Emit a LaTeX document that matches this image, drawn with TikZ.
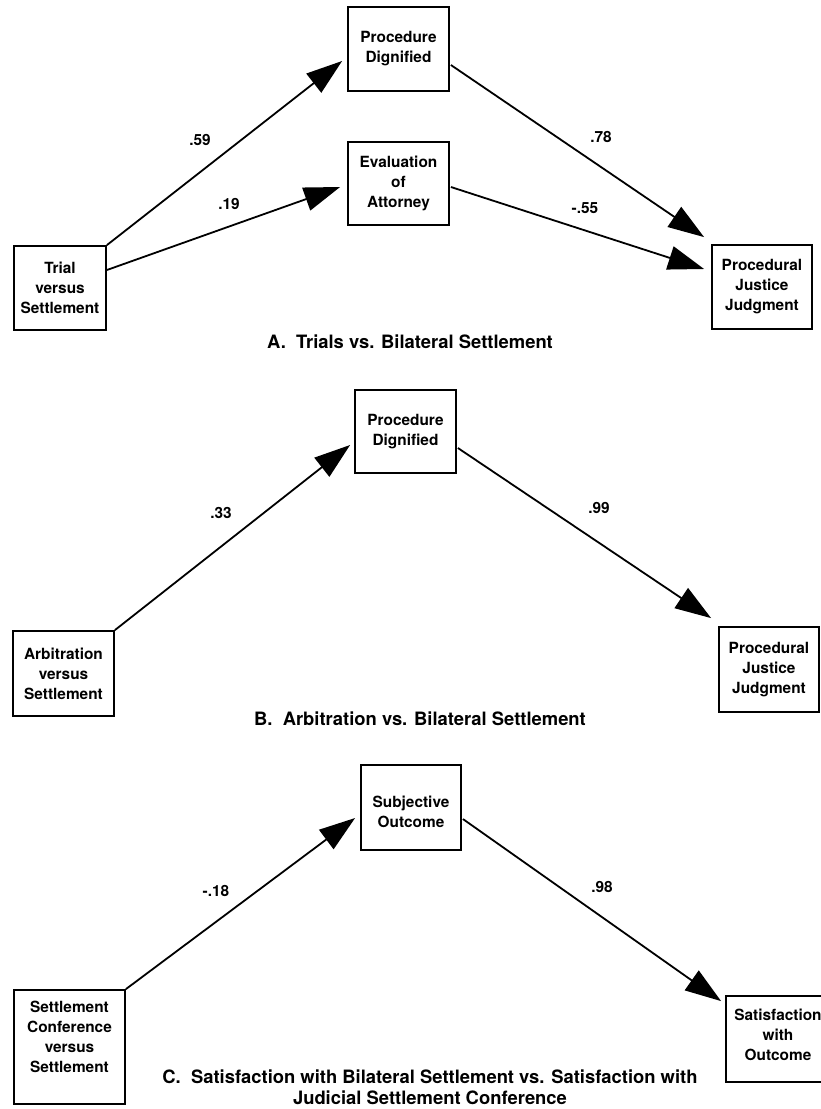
\documentclass[tikz,border=0pt]{standalone}
\usepackage{fontspec}
\setmainfont{TeX Gyre Heros}
\usetikzlibrary{arrows.meta,calc}
\newcommand\myboxfont{\fontsize{15.4}{20}\selectfont\bfseries}
\newcommand\mylblfont{\fontsize{15.4}{18}\selectfont\bfseries}
\newcommand\mycapfont{\fontsize{18.4}{21}\selectfont\bfseries}
\begin{document}
\begin{tikzpicture}[x=1pt,y=-1pt,
  box/.style={draw, line width=1.8pt, inner sep=0pt, align=center, font=\myboxfont},
  txt/.style={inner sep=0pt, align=center, font=\myboxfont},
  lbl/.style={font=\mylblfont, inner sep=0pt},
  captxt/.style={font=\mycapfont, inner sep=0pt, align=center},
  link/.style={line width=1.8pt, -{Triangle[length=36pt,width=24pt]}},
]
\useasboundingbox (0,0) rectangle (820,1109);

% ---------- Panel A ----------
\node[box, minimum width=101pt, minimum height=84pt] (pda) at (398.5,49) {Procedure\\Dignified};
\node[box, minimum width=101pt, minimum height=83pt] (eaa) at (398.5,183.5) {Evaluation\\of\\Attorney};
\node[box, minimum width=92pt, minimum height=84pt] (tra) at (60,288) {Trial\\versus\\Settlement};
\node[box, minimum width=100pt, minimum height=84pt] (pja) at (762,287) {Procedural\\Justice\\Judgment};

\draw[link] (tra.north east) -- ($(pda.west)+(-5,12)$);
\draw[link] ($(tra.east)+(0,-18)$) -- ($(eaa.west)+(-7,3.5)$);
\draw[link] ($(pda.east)+(1,16)$) -- ($(pja.north west)+(-7,-7)$);
\draw[link] ($(eaa.east)+(1,3.5)$) -- ($(pja.west)+(-7,-18)$);

\node[lbl] (l59) at (200,140) {.59};
\node[lbl] (l19) at (229,204) {.19};
\node[lbl] (l78) at (601,137) {.78};
\node[lbl] (l55) at (585,208) {-.55};

\node[captxt] (capa) at (410,342) {A.\ \ Trials vs. Bilateral Settlement};

% ---------- Panel B ----------
\node[box, minimum width=101pt, minimum height=83pt] (pdb) at (405.5,431.5) {Procedure\\Dignified};
\node[box, minimum width=101pt, minimum height=85pt] (arb) at (63.5,673.5) {Arbitration\\versus\\Settlement};
\node[box, minimum width=100pt, minimum height=85pt] (pjb) at (769,669.5) {Procedural\\Justice\\Judgment};

\draw[link] (arb.north east) -- ($(pdb.west)+(-4,13.5)$);
\draw[link] ($(pdb.east)+(1,16.5)$) -- ($(pjb.north west)+(-7,-8)$);

\node[lbl] (l33) at (221,513) {.33};
\node[lbl] (l99) at (599,508) {.99};

\node[captxt] (capb) at (420,719) {B.\ \ Arbitration vs. Bilateral Settlement};

% ---------- Panel C ----------
\node[box, minimum width=100pt, minimum height=85pt] (soc) at (411,807.5) {};
\node[txt] (sot) at (411,812) {Subjective\\Outcome};
\node[box, minimum width=111pt, minimum height=114pt] (scb) at (69.5,1047) {};
\node[txt] (sct) at (69.5,1037) {Settlement\\Conference\\versus\\Settlement};
\node[box, minimum width=104pt, minimum height=86pt] (sat) at (778,1039) {};
\node[txt] (satt) at (778,1035) {Satisfaction\\with\\Outcome};

\draw[link] (scb.north east) -- ($(soc.west)+(-5,10.5)$);
\draw[link] ($(soc.east)+(1,11.5)$) -- ($(sat.north west)+(-4,6)$);

\node[lbl] (l18) at (216,891) {-.18};
\node[lbl] (l98) at (602,887) {.98};

\node[captxt] (capc) at (430,1087) {C.\ \ Satisfaction with Bilateral Settlement vs. Satisfaction with\\Judicial Settlement Conference};
\end{tikzpicture}
\end{document}
